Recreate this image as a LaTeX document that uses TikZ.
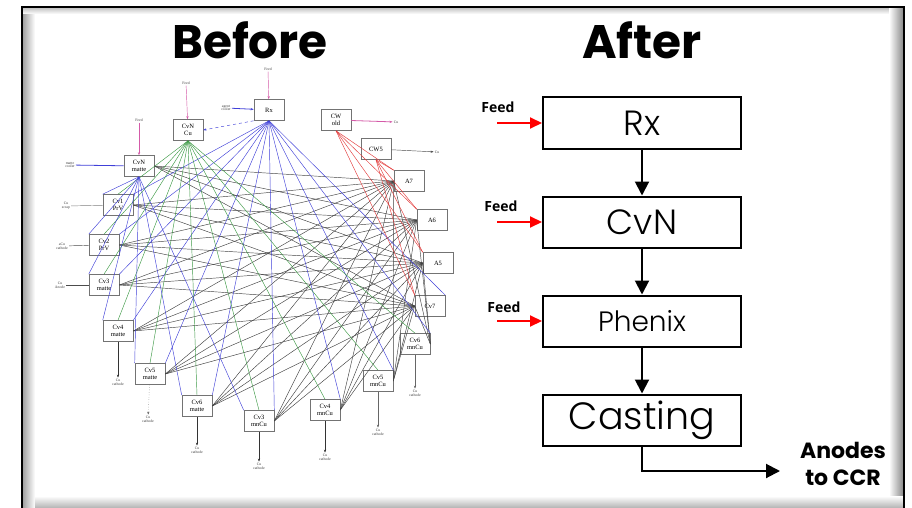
\documentclass[tikz,border=0pt]{standalone}
\usepackage{fontspec}
\setmainfont{Poppins}
\newfontfamily\boxfont{Poppins}[UprightFont=* Light]
\newfontfamily\feedfont{Open Sans}
\newfontfamily\oldfont{Liberation Serif}
\usepackage{tikz}
\usetikzlibrary{arrows.meta,positioning}
\definecolor{feedred}{HTML}{FF0000}
\definecolor{feedpink}{HTML}{D45AA8}
\definecolor{webblue}{HTML}{4040D8}
\definecolor{webgreen}{HTML}{3E9A46}
\definecolor{webred}{HTML}{E23A3A}
\definecolor{bevelgray}{HTML}{8C8C8C}

\begin{document}
\begin{tikzpicture}[x=1pt, y=-1pt,
    node distance=46pt,
    unit/.style={rectangle, draw=black, line width=2pt, minimum width=198pt, minimum height=51pt, inner sep=0pt},
    oldunit/.style={rectangle, draw=black!55, line width=0.6pt, fill=white, minimum width=30pt, minimum height=21pt, inner sep=1pt, align=center, font=\oldfont\fontsize{6.5}{6.5}\selectfont},
    sidetext/.style={align=center, text=black!75, inner sep=1pt, font=\oldfont\fontsize{3.8}{3.8}\selectfont},
    feedtext/.style={font=\feedfont\bfseries\fontsize{14}{15}\selectfont},
    title/.style={inner sep=0pt, font=\bfseries\fontsize{47}{50}\selectfont},
    flow/.style={-{Triangle[length=14pt,width=14pt]}, line width=2pt},
    feedflow/.style={-{Triangle[length=12pt,width=11pt]}, feedred, line width=2pt},
    web/.style={line width=0.45pt}
]
\useasboundingbox (0,0) rectangle (912,508);

% frame
\shade[left color=bevelgray!80, right color=white] (23,8) rectangle (35,514);
\shade[top color=bevelgray!50, bottom color=white] (23,8) rectangle (903,14);
\shade[left color=white, right color=bevelgray] (889,8) rectangle (903,514);
\shade[top color=white, bottom color=bevelgray] (35,496) rectangle (903,514);
\draw[line width=2.6pt] (22,7) rectangle (904,516);

% titles
\node[title] (before) at (250,40) {Before};
\node[title] (after) at (642,40) {After};

% ---------- before: old plant network ----------
\node[oldunit] (brx) at (269,110) {Rx};
\node[oldunit] (bcvncu) at (188,130) {CvN\\Cu};
\node[oldunit] (bcvnm) at (139,166) {CvN\\matte};
\node[oldunit] (bcv1) at (118,205) {Cv1\\PrV};
\node[oldunit] (bcv2) at (104,245) {Cv2\\PrV};
\node[oldunit] (bcv3) at (104,285) {Cv3\\matte};
\node[oldunit] (bcv4m) at (118,331) {Cv4\\matte};
\node[oldunit] (bcv5m) at (150,374) {Cv5\\matte};
\node[oldunit] (bcv6m) at (197,406) {Cv6\\matte};
\node[oldunit] (bcv3n) at (259,421) {Cv3\\mnCu};
\node[oldunit] (bcv4n) at (325,410) {Cv4\\mnCu};
\node[oldunit] (bcv5n) at (378,381) {Cv5\\mnCu};
\node[oldunit] (bcv6n) at (415,344) {Cv6\\mnCu};
\node[oldunit] (bcv7) at (430,306) {Cv7};
\node[oldunit] (ba5) at (438,263) {A5};
\node[oldunit] (ba6) at (432,220) {A6};
\node[oldunit] (ba7) at (409,181) {A7};
\node[oldunit] (bcw5) at (376,149) {CW5};
\node[oldunit] (bcwold) at (336,120) {CW\\old};

% side streams
\node[sidetext] (frx) at (268,69) {Feed};
\node[sidetext] (fcvncu) at (186,83) {Feed};
\node[sidetext] (fcvnm) at (139,120) {Feed};
\node[sidetext] (srx) at (226,108) {agent\\cooler};
\node[sidetext] (scvnm) at (70,165) {matte\\cooler};
\node[sidetext] (scv1) at (66,206) {Cu\\scrap};
\node[sidetext] (scv2) at (62,246) {aCu\\cathode};
\node[sidetext] (scv3) at (60,285) {Cu\\Anode};
\node[sidetext] (ocv4m) at (118,382) {Cu\\cathode};
\node[sidetext] (ocv5m) at (148,419) {Cu\\cathode};
\node[sidetext] (ocv6m) at (197,450) {Cu\\cathode};
\node[sidetext] (ocv3n) at (259,466) {Cu\\cathode};
\node[sidetext] (ocv4n) at (325,457) {Cu\\cathode};
\node[sidetext] (ocv5n) at (378,432) {Cu\\cathode};
\node[sidetext] (ocv6n) at (415,393) {Cu\\cathode};
\node[sidetext] (ocw5) at (437,152) {Cu};
\node[sidetext] (ocwold) at (396,122) {Cu};

\draw[feedpink, web, -{Stealth[length=3pt]}] (frx) -- (brx);
\draw[feedpink, web, -{Stealth[length=3pt]}] (fcvncu) -- (bcvncu);
\draw[feedpink, web, -{Stealth[length=3pt]}] (fcvnm) -- (bcvnm);
\draw[webblue, line width=0.8pt, -{Stealth[length=3pt]}] (srx) -- (brx);
\draw[webblue, line width=0.8pt] (scvnm) -- (bcvnm);
\draw[black!50, web] (scv1) -- (bcv1);
\draw[black!70, web] (scv2) -- (bcv2);
\draw[black!70, web] (scv3) -- (bcv3);
\draw[black!80, web, -{Stealth[length=3pt]}] (bcv4m) -- (ocv4m);
\draw[black!60, web, dotted, -{Stealth[length=3pt]}] (bcv5m) -- (ocv5m);
\draw[black!80, web, -{Stealth[length=3pt]}] (bcv6m) -- (ocv6m);
\draw[black!80, web, -{Stealth[length=3pt]}] (bcv3n) -- (ocv3n);
\draw[black!80, web, -{Stealth[length=3pt]}] (bcv4n) -- (ocv4n);
\draw[black!60, web, -{Stealth[length=3pt]}] (bcv5n) -- (ocv5n);
\draw[black!60, web, -{Stealth[length=3pt]}] (bcv6n) -- (ocv6n);
\draw[black!70, web, -{Stealth[length=3pt]}] (bcw5) -- (ocw5);
\draw[feedpink, line width=0.8pt, -{Stealth[length=3pt]}] (bcwold) -- (ocwold);
\draw[webblue, web, dashed, -{Stealth[length=3pt]}] (brx.south west) -- (bcvncu.east);

% web of transfers
\foreach \s in {ba7,ba6,ba5,bcv7}
  \foreach \t in {bcvnm,bcv1,bcv2,bcv3,bcv4m,bcv5m,bcv6m,bcv3n,bcv4n,bcv5n,bcv6n}
    \draw[black!75, web] (\s.west) -- (\t.east);
\foreach \t in {bcv1,bcv2,bcv3,bcv4m,bcv5m,bcv6m,bcv3n,bcv4n,bcv5n,bcv6n,bcv7}
  \draw[webblue, web] (brx.south) -- (\t.north east);
\foreach \t in {bcv1,bcv2,bcv3,bcv4m,bcv5m,bcv6m,bcv3n,bcv4n,bcv5n,bcv6n}
  \draw[webgreen, web] (bcvncu.south) -- (\t.north);
\foreach \t in {bcv1,bcv2,bcv3,bcv4m,bcv5m,bcv6m,bcv3n}
  \draw[webblue, web] (bcvnm.south) -- (\t.north west);
\foreach \s in {ba7,ba6,ba5,bcv7}
  \foreach \t in {bcw5,bcwold}
    \draw[webred, web] (\s.north west) -- (\t.south);

% ---------- after: new plant ----------
\node[unit, font=\boxfont\fontsize{35}{38}\selectfont] (rx) at (642,123) {Rx};
\node[unit, below=of rx, font=\boxfont\fontsize{35}{38}\selectfont] (cvn) {CvN};
\node[unit, below=of cvn, font=\boxfont\fontsize{28}{30}\selectfont] (phenix) {Phenix};
\node[unit, below=of phenix, font=\boxfont\fontsize{38}{40}\selectfont] (casting) {Casting};

\draw[flow] (rx) -- (cvn);
\draw[flow] (cvn) -- (phenix);
\draw[flow] (phenix) -- (casting);

\coordinate[left=45pt of rx.west] (f1);
\coordinate[left=45pt of cvn.west] (f2);
\coordinate[left=45pt of phenix.west] (f3);
\node[feedtext] (feed1) at (498,107) {Feed};
\node[feedtext] (feed2) at (501,206) {Feed};
\node[feedtext] (feed3) at (504,307) {Feed};
\draw[feedflow] (f1) -- (rx.west);
\draw[feedflow] (f2) -- (cvn.west);
\draw[feedflow] (f3) -- (phenix.west);

\coordinate (anodes) at (780,471);
\draw[flow] (casting.south) |- (anodes);
\node[align=center, font=\bfseries\fontsize{22}{27}\selectfont] (ccr) at (843,464) {Anodes\\to CCR};
\end{tikzpicture}
\end{document}
